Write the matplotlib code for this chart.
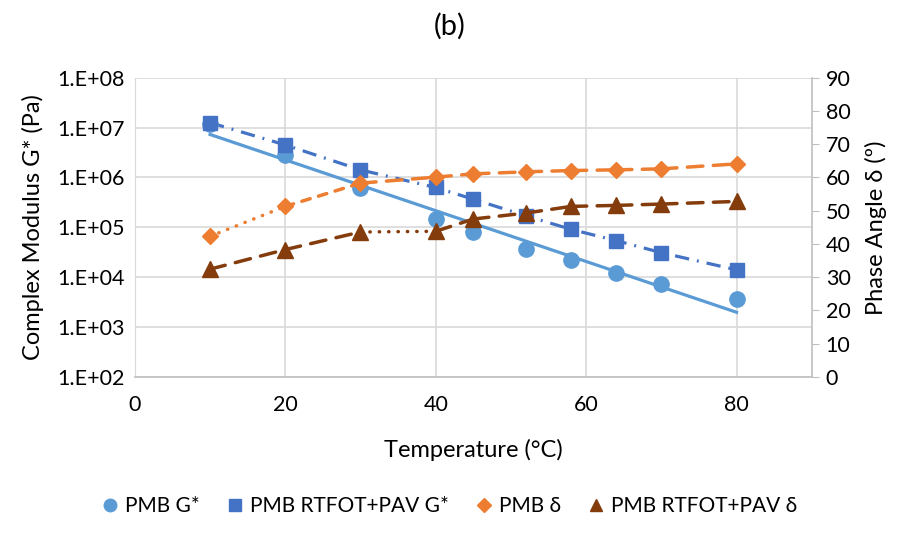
import numpy as np
import matplotlib.pyplot as plt
from matplotlib.lines import Line2D

plt.rcParams['font.family'] = ['Lato', 'DejaVu Sans']

# Datos
temp = [10, 20, 30, 40, 45, 52, 58, 64, 70, 80]
pmb_g = [1.2e7, 2.8e6, 6.1e5, 1.5e5, 8.2e4, 3.7e4, 2.2e4, 1.23e4, 7.2e3, 3.65e3]
pav_g = [1.26e7, 4.5e6, 1.42e6, 6.3e5, 3.66e5, 1.7e5, 9.1e4, 5.4e4, 3.1e4, 1.4e4]
pmb_d = [42.3, 51.3, 58.3, 60.1, 61.1, 61.7, 62.1, 62.3, 62.6, 64.1]
pav_d = [32.4, 38.3, 43.6, 43.8, 47.5, 49.3, 51.3, 51.6, 52.0, 52.8]

c_light = '#5B9BD5'
c_blue = '#4472C4'
c_orange = '#ED7D31'
c_brown = '#843C0C'
grid_c = '#D9D9D9'

dot = (0, (0.1, 2.6))
dash = (0, (4.5, 3))
short_dash = (0, (2.5, 2.5))
dashdot = (0, (4.5, 2.5, 0.6, 2.5))
orange_styles = [dot, short_dash] + [dash] * 7
brown_styles = [dash, dash, dot] + [dash] * 6

fig = plt.figure(figsize=(8.99, 5.33), dpi=100)
ax = fig.add_axes([0.150, 0.293, 0.753, 0.561])
ax2 = ax.twinx()

# eje izquierdo (log)
ax.set_yscale('log')
ax.set_ylim(1e2, 1e8)
ax.set_xlim(0, 90)
ax.set_xticks([0, 20, 40, 60, 80])
ax.set_yticks([10.0 ** k for k in range(2, 9)])
ax.set_yticklabels(['1.E+%02d' % k for k in range(2, 9)])
ax.minorticks_off()
ax.grid(True, color=grid_c, linewidth=1.2)
ax.set_axisbelow(True)

# tendencia exponencial de PMB G*
coef = np.polyfit(temp, np.log10(pmb_g), 1)
xt = np.array([temp[0], temp[-1]])
ax.plot(xt, 10 ** np.polyval(coef, xt), color=c_light, lw=2.3, zorder=3)
ax.plot(temp, pmb_g, 'o', color=c_light, ms=11, zorder=4)

ax.plot(temp, pav_g, color=c_blue, lw=2.3, linestyle=dashdot, zorder=3)
ax.plot(temp, pav_g, 's', color=c_blue, ms=10.5, zorder=4)

# eje derecho
ax2.set_ylim(0, 90)
ax2.set_yticks(range(0, 91, 10))
for i in range(len(temp) - 1):
    ax2.plot(temp[i:i + 2], pmb_d[i:i + 2], color=c_orange, lw=2.5,
             linestyle=orange_styles[i], dash_capstyle='round', zorder=3)
    ax2.plot(temp[i:i + 2], pav_d[i:i + 2], color=c_brown, lw=2.5,
             linestyle=brown_styles[i], dash_capstyle='round', zorder=3)
ax2.plot(temp, pmb_d, 'D', color=c_orange, ms=8.5, zorder=4)
ax2.plot(temp, pav_d, '^', color=c_brown, ms=11, zorder=4)

for a in (ax, ax2):
    for s in a.spines.values():
        s.set_visible(False)
ax.spines['left'].set_visible(True)
ax.spines['left'].set_color(grid_c)
ax.spines['bottom'].set_visible(True)
ax.spines['bottom'].set_color('#BFBFBF')
ax.spines['bottom'].set_linewidth(1.2)
ax2.spines['right'].set_visible(True)
ax2.spines['right'].set_color('#BFBFBF')
ax2.spines['right'].set_linewidth(1.2)

ax.tick_params(axis='both', length=0, labelsize=15.5, colors='black', pad=7)
ax.tick_params(axis='x', pad=13)
ax2.tick_params(axis='y', length=5, color='#BFBFBF', labelsize=15.5, pad=5)

ax.set_xlabel('Temperature (°C)', fontsize=17, labelpad=17)
ax.set_ylabel('Complex Modulus G* (Pa)', fontsize=17, labelpad=10)
ax2.set_ylabel('Phase Angle δ (º)', fontsize=17, labelpad=10)
fig.suptitle('(b)', fontsize=21, y=0.975)

handles = [
    Line2D([], [], marker='o', color=c_light, ls='none', ms=9),
    Line2D([], [], marker='s', color=c_blue, ls='none', ms=9),
    Line2D([], [], marker='D', color=c_orange, ls='none', ms=7),
    Line2D([], [], marker='^', color=c_brown, ls='none', ms=9),
]
labels = ['PMB G*', 'PMB RTFOT+PAV G*', 'PMB δ', 'PMB RTFOT+PAV δ']
fig.legend(handles, labels, loc='center', bbox_to_anchor=(0.5, 0.05), ncol=4,
           frameon=False, fontsize=15, handletextpad=0.3, columnspacing=1.3,
           handlelength=0.8)

fig.savefig('out.png', dpi=100)
